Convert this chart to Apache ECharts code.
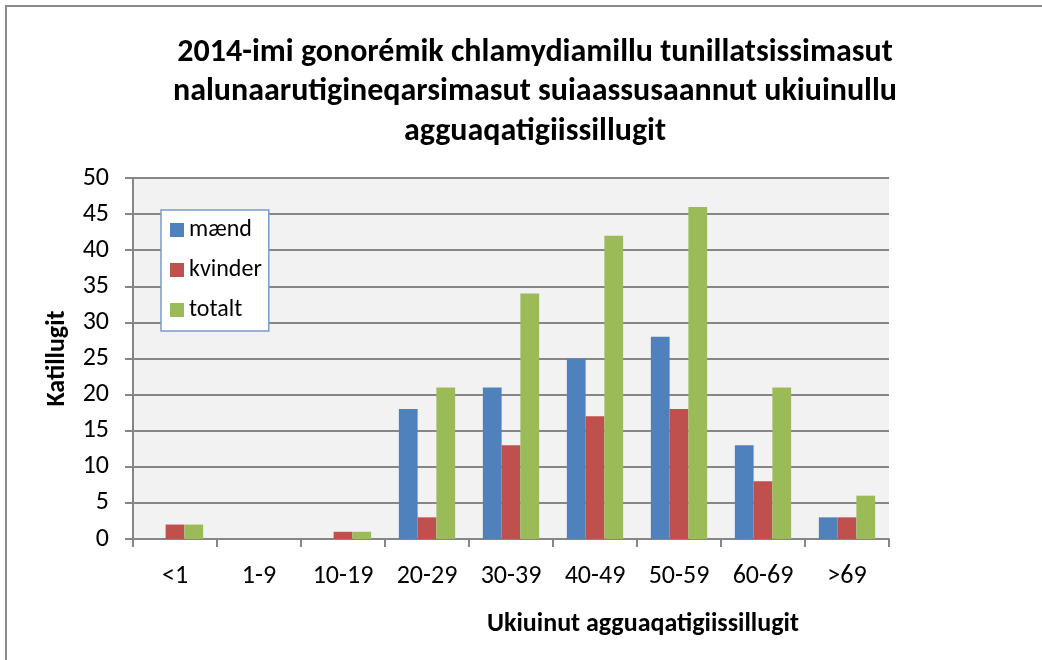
<!DOCTYPE html>
<html lang="kl">
<head>
    <meta charset="UTF-8">
    <title>Gonoré / chlamydia 2014</title>
    <style>
        html, body { margin: 0; padding: 0; background: #fff; }
        #container { width: 1042px; height: 660px; }
    </style>
</head>
<body>
    <div id="container"></div>
    <script src="https://cdn.jsdelivr.net/npm/echarts@6/dist/echarts.min.js"></script>
    <script>
        // data
        const ageGroups = ['<1', '1-9', '10-19', '20-29', '30-39', '40-49', '50-59', '60-69', '>69'];
        const maend = [0, 0, 0, 18, 21, 25, 28, 13, 3];
        const kvinder = [2, 0, 1, 3, 13, 17, 18, 8, 3];
        const totalt = [2, 0, 1, 21, 34, 42, 46, 21, 6];
        const seriesNames = ['mænd', 'kvinder', 'totalt'];
        const colors = ['#4F81BD', '#C0504D', '#9BBB59'];

        const font = 'Carlito, Calibri, Lato, sans-serif';
        const gridCol = '#868686';

        const option = {
            backgroundColor: '#fff',
            animation: false,
            color: colors,
            title: {
                text: '2014-imi gonorémik chlamydiamillu tunillatsissimasut\nnalunaarutigineqarsimasut suiaassusaannut ukiuinullu\nagguaqatigiissillugit',
                left: 530,
                textAlign: 'center',
                top: 28,
                textStyle: {
                    fontFamily: font,
                    fontSize: 32,
                    fontWeight: 'bold',
                    color: '#000',
                    lineHeight: 39.5
                }
            },
            legend: {
                orient: 'vertical',
                left: 161,
                top: 210,
                itemWidth: 14,
                itemHeight: 14,
                itemGap: 16,
                padding: [8, 7, 9, 9],
                backgroundColor: '#fff',
                borderColor: '#7A9CCB',
                borderWidth: 1.5,
                icon: 'rect',
                textStyle: { fontFamily: font, fontSize: 24, color: '#000' },
                data: seriesNames
            },
            grid: {
                left: 133,
                right: 153,
                top: 178,
                bottom: 121,
                show: true,
                backgroundColor: '#F2F2F2',
                borderWidth: 0
            },
            xAxis: {
                type: 'category',
                data: ageGroups,
                axisLine: { lineStyle: { color: gridCol, width: 2 } },
                axisTick: { show: true, length: 8, lineStyle: { color: gridCol, width: 2 } },
                axisLabel: { fontFamily: font, fontSize: 26, color: '#000', margin: 24 }
            },
            yAxis: {
                type: 'value',
                min: 0,
                max: 50,
                interval: 5,
                name: 'Katillugit',
                nameLocation: 'middle',
                nameGap: 63,
                nameTextStyle: { fontFamily: font, fontSize: 26, fontWeight: 'bold', color: '#000' },
                axisLine: { show: true, lineStyle: { color: gridCol, width: 2 } },
                axisTick: { show: true, length: 8, lineStyle: { color: gridCol, width: 2 } },
                axisLabel: { fontFamily: font, fontSize: 26, color: '#000', margin: 24 },
                splitLine: { lineStyle: { color: gridCol, width: 2 } }
            },
            series: [
                { name: seriesNames[0], type: 'bar', data: maend, barGap: '0%', barCategoryGap: '33%' },
                { name: seriesNames[1], type: 'bar', data: kvinder, barGap: '0%', barCategoryGap: '33%' },
                { name: seriesNames[2], type: 'bar', data: totalt, barGap: '0%', barCategoryGap: '33%' }
            ],
            graphic: [
                {
                    type: 'text',
                    left: 487,
                    top: 611,
                    style: {
                        text: 'Ukiuinut agguaqatigiissillugit',
                        font: 'bold 26px ' + font,
                        fill: '#000'
                    }
                },
                {
                    type: 'rect',
                    shape: { x: 6, y: 6, width: 1100, height: 700 },
                    style: { fill: 'none', stroke: '#8C8C8C', lineWidth: 2 },
                    silent: true
                }
            ]
        };

        const chart = echarts.init(document.getElementById('container'));
        chart.setOption(option);
    </script>
</body>
</html>
